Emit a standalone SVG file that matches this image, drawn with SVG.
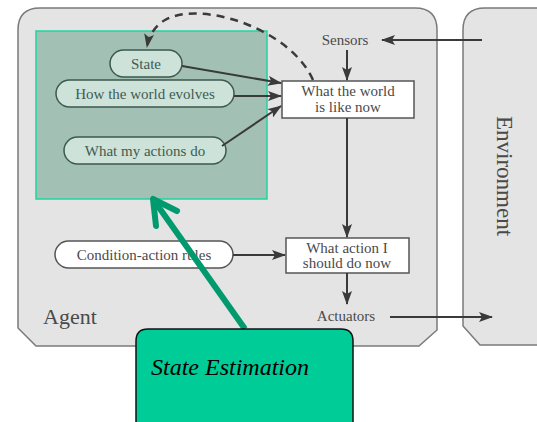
<svg xmlns="http://www.w3.org/2000/svg" width="537" height="422" viewBox="0 0 537 422">
  <defs>
    <marker id="head" markerUnits="userSpaceOnUse" markerWidth="14" markerHeight="10" refX="13" refY="5" orient="auto">
      <path d="M0,0 L14,5 L0,10 L3,5 Z" fill="#3a3a3a"/>
    </marker>
    <marker id="headDash" markerUnits="userSpaceOnUse" markerWidth="14" markerHeight="10" refX="13" refY="5" orient="auto">
      <path d="M0,0 L14,5 L0,10 L3,5 Z" fill="#3a3a3a"/>
    </marker>
  </defs>
  <style>
    .panel { fill: #e4e4e4; stroke: #7a7a7a; stroke-width: 1.5; }
    .lbl { font-family: "Liberation Serif", "Times New Roman", serif; font-size: 15px; fill: #4a4a4a; text-anchor: middle; }
    .inner { fill: #3e5c51; }
    .pill { fill: #cde2d9; stroke: #3d584e; stroke-width: 1.5; }
    .pillw { fill: #ffffff; stroke: #555; stroke-width: 1.5; }
    .box { fill: #ffffff; stroke: #555; stroke-width: 1.5; }
    .edge { stroke: #3a3a3a; stroke-width: 2; fill: none; marker-end: url(#head); }
  </style>
  <rect width="537" height="422" fill="#ffffff"/>

  <!-- agent and environment panels -->
  <g id="agent">
    <path class="panel" d="M18,30 Q18,8 40,8 L415,8 Q437,8 437,30 L437,330 L419,346 L36,346 L18,328 Z"/>
    <text x="43" y="324" style="font-family:'Liberation Serif','Times New Roman',serif;font-size:22px;fill:#4a4a4a">Agent</text>
  </g>
  <g id="environment">
    <path class="panel" d="M540,8 L485,8 Q463,8 463,30 L463,326 L480,345 L540,345 Z"/>
    <text transform="translate(497,176) rotate(90)" x="0" y="0" text-anchor="middle" style="font-family:'Liberation Serif','Times New Roman',serif;font-size:23px;fill:#4a4a4a">Environment</text>
  </g>

  <!-- highlighted model region -->
  <rect id="model-region" x="36" y="31" width="231" height="168" fill="#a2c1b4"/>

  <g id="state">
    <rect class="pill" x="110" y="50" width="72" height="27" rx="13.5"/>
    <text class="lbl inner" x="146" y="69">State</text>
  </g>
  <g id="how-world-evolves">
    <rect class="pill" x="56" y="80" width="178" height="27" rx="13.5"/>
    <text class="lbl inner" x="145" y="99">How the world evolves</text>
  </g>
  <g id="what-actions-do">
    <rect class="pill" x="64" y="137" width="162" height="27" rx="13.5"/>
    <text class="lbl inner" x="145" y="156">What my actions do</text>
  </g>
  <rect x="36" y="31" width="231" height="168" fill="none" stroke="#22d3a0" stroke-width="1.5"/>

  <g id="sensors">
    <text class="lbl" x="345" y="45">Sensors</text>
  </g>
  <g id="world-now">
    <rect class="box" x="282" y="81" width="132" height="37"/>
    <text class="lbl" x="348" y="96">What the world</text>
    <text class="lbl" x="348" y="112">is like now</text>
  </g>
  <g id="condition-action">
    <rect class="pillw" x="55" y="241" width="178" height="27" rx="13.5"/>
    <text class="lbl" x="144" y="260">Condition-action rules</text>
  </g>
  <g id="what-action">
    <rect class="box" x="286" y="238" width="123" height="35"/>
    <text class="lbl" x="347" y="253">What action I</text>
    <text class="lbl" x="347" y="268">should do now</text>
  </g>
  <g id="actuators">
    <text class="lbl" x="346" y="321">Actuators</text>
  </g>

  <!-- connectors -->
  <g id="connectors">
    <path class="edge" d="M482,40 L382,40"/>
    <path class="edge" d="M347,50 L347,80"/>
    <path class="edge" d="M182,66 L281,83"/>
    <path class="edge" d="M234,96 L281,96"/>
    <path class="edge" d="M222,146 L281,106"/>
    <path class="edge" d="M347,118 L347,237"/>
    <path class="edge" d="M233,255 L285,255"/>
    <path class="edge" d="M347,273 L347,304"/>
    <path class="edge" d="M390,317 L492,317"/>
    <path d="M313,80 C290,28 200,0 165,20 C155,26 149,35 147,47" fill="none" stroke="#3a3a3a" stroke-width="2.5" stroke-dasharray="8,6" marker-end="url(#headDash)"/>
  </g>

  <!-- callout -->
  <g id="state-estimation">
    <path d="M245,329 L153,199" stroke="#009a6e" stroke-width="6" fill="none"/>
    <path d="M177,211 L153,199 L156,226" stroke="#009a6e" stroke-width="6" fill="none" stroke-linecap="round" stroke-linejoin="round"/>
    <path d="M136,424 L136,341 Q136,329 148,329 L341,329 Q353,329 353,341 L353,424 Z" fill="#00cc98" stroke="#111" stroke-width="1.5"/>
    <text x="151" y="375" style="font-family:'Liberation Serif','Times New Roman',serif;font-size:24px;font-style:italic;fill:#000">State Estimation</text>
  </g>
</svg>
